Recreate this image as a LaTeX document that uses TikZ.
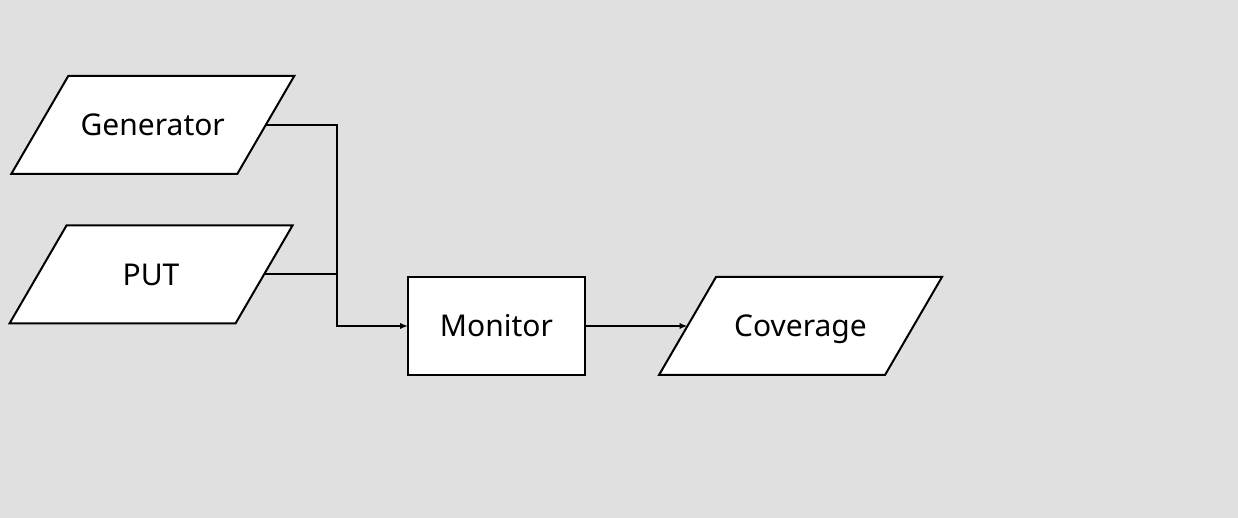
\documentclass[tikz,border=0pt]{standalone}
\usepackage{fontspec}
\setmainfont{Noto Sans}
\usetikzlibrary{arrows.meta,backgrounds}
\definecolor{bg}{HTML}{E0E0E0}
\tikzset{
  txt/.style={font=\fontsize{15}{18}\selectfont, text height=10.7pt, text depth=0pt},
  io/.style={rectangle, txt, minimum width=113pt, minimum height=49pt,
    inner sep=0pt, outer sep=0pt},
  ioshape/.style={draw=black, fill=white, line width=1pt, line join=miter},
  proc/.style={rectangle, txt, draw=black, fill=white, line width=1pt,
    minimum width=88.5pt, minimum height=49pt, inner sep=0pt, outer sep=0pt},
  conn/.style={line width=1pt},
  arr/.style={conn, -{Latex[length=4pt,width=3.2pt]}}
}
\newcommand{\para}[1]{%
  \draw[ioshape] ([xshift=14.25pt]#1.north west) -- ([xshift=14.25pt]#1.north east)
    -- ([xshift=-14.25pt]#1.south east) -- ([xshift=-14.25pt]#1.south west) -- cycle;}
\begin{document}
\begin{tikzpicture}[x=0.5pt,y=-0.5pt]
\node[io] (gen) at (152.75,125) {Generator};
\node[io] (put) at (151,274.5) {PUT};
\node[proc] (mon) at (496.5,326) {Monitor};
\node[io] (cov) at (800.5,326) {Coverage};
\begin{pgfonlayer}{background}
\fill[bg] (0,0) rectangle (1238,518);
\para{gen}
\para{put}
\para{cov}
\end{pgfonlayer}
\useasboundingbox (0,0) rectangle (1238,518);
\coordinate (j) at (337,326);
\draw[arr] (gen.east) -| (j) -- (mon.west);
\draw[conn] (put.east) -- (put.east -| j);
\draw[arr] (mon.east) -- (cov.west);
\end{tikzpicture}
\end{document}
